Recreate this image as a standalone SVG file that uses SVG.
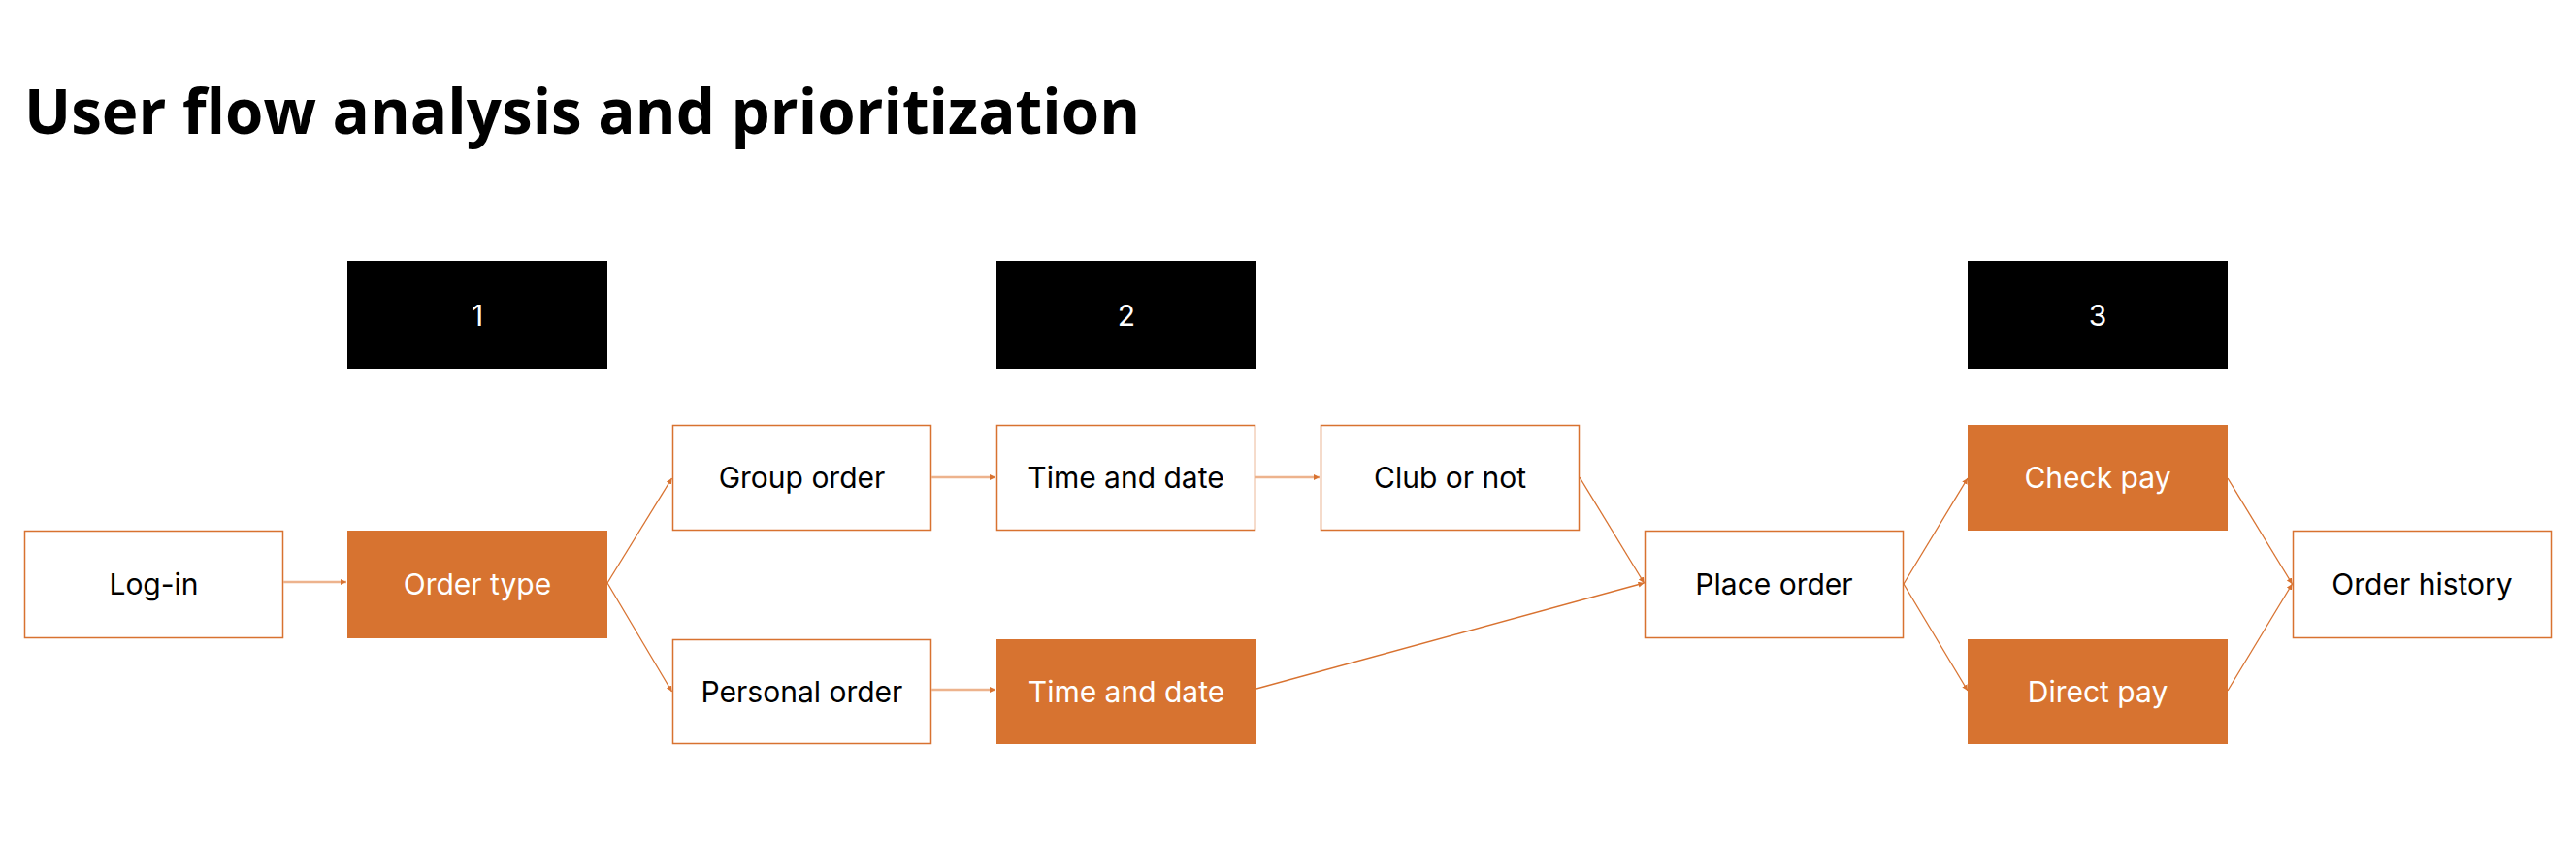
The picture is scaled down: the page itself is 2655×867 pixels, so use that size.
<svg xmlns="http://www.w3.org/2000/svg" width="2655" height="867" viewBox="0 0 2655 867">
<style>
.bg{fill:#ffffff}
.title{font-family:"Open Sans","Noto Sans","Liberation Sans",sans-serif;font-weight:700;font-size:65px;fill:#000000}
.box{fill:#ffffff;stroke:#D87230;stroke-width:1.5}
.hot{fill:#D77330;stroke:none}
.num{fill:#000000;stroke:none}
.lbl{font-family:Inter,"Liberation Sans",sans-serif;font-size:30px;text-anchor:middle;fill:#000000}
.wl{fill:#ffffff}
.soft{stroke:#EDB38D;stroke-width:2.5;fill:none}
.thin{stroke:#D87230;stroke-width:1.3;fill:none}
</style>
<defs>
<marker id="ah" markerUnits="userSpaceOnUse" markerWidth="7" markerHeight="7" refX="6" refY="3" orient="auto">
<path d="M0,0 L6,3 L0,6 z" fill="#D87230"/>
</marker>
</defs>
<rect class="bg" x="0" y="0" width="2655" height="867"/>
<text class="title" x="25" y="138" textLength="1150" lengthAdjust="spacingAndGlyphs">User flow analysis and prioritization</text>

<g id="step1"><rect class="num" x="358" y="269" width="268" height="111"/><text class="lbl wl" x="492" y="336">1</text></g>
<g id="step2"><rect class="num" x="1027" y="269" width="268" height="111"/><text class="lbl wl" x="1161" y="336">2</text></g>
<g id="step3"><rect class="num" x="2028" y="269" width="268" height="111"/><text class="lbl wl" x="2162" y="336">3</text></g>

<g id="login"><rect class="box" x="25.5" y="547.5" width="266" height="110"/><text class="lbl" x="158.5" y="613">Log-in</text></g>
<g id="ordertype"><rect class="hot" x="358" y="547" width="268" height="111"/><text class="lbl wl" x="492" y="613">Order type</text></g>
<g id="grouporder"><rect class="box" x="693.5" y="438.5" width="266" height="108"/><text class="lbl" x="826.5" y="503">Group order</text></g>
<g id="personalorder"><rect class="box" x="693.5" y="659.5" width="266" height="107"/><text class="lbl" x="826.5" y="724">Personal order</text></g>
<g id="timedate1"><rect class="box" x="1027.5" y="438.5" width="266" height="108"/><text class="lbl" x="1160.5" y="503">Time and date</text></g>
<g id="timedate2"><rect class="hot" x="1027" y="659" width="268" height="108"/><text class="lbl wl" x="1161" y="724">Time and date</text></g>
<g id="club"><rect class="box" x="1361.5" y="438.5" width="266" height="108"/><text class="lbl" x="1494.5" y="503">Club or not</text></g>
<g id="placeorder"><rect class="box" x="1695.5" y="547.5" width="266" height="110"/><text class="lbl" x="1828.5" y="613">Place order</text></g>
<g id="checkpay"><rect class="hot" x="2028" y="438" width="268" height="109"/><text class="lbl wl" x="2162" y="503">Check pay</text></g>
<g id="directpay"><rect class="hot" x="2028" y="659" width="268" height="108"/><text class="lbl wl" x="2162" y="724">Direct pay</text></g>
<g id="orderhistory"><rect class="box" x="2363.5" y="547.5" width="266" height="110"/><text class="lbl" x="2496.5" y="613">Order history</text></g>

<g id="connectors">
<line class="soft" x1="292" y1="600" x2="357" y2="600" marker-end="url(#ah)"/>
<line class="soft" x1="960" y1="492" x2="1026" y2="492" marker-end="url(#ah)"/>
<line class="soft" x1="1294" y1="492" x2="1360" y2="492" marker-end="url(#ah)"/>
<line class="soft" x1="960" y1="711" x2="1026" y2="711" marker-end="url(#ah)"/>
<line class="thin" x1="626" y1="601" x2="692.5" y2="493" marker-end="url(#ah)"/>
<line class="thin" x1="626" y1="601" x2="692.5" y2="713" marker-end="url(#ah)"/>
<line class="thin" x1="1628" y1="492" x2="1694.5" y2="601" marker-end="url(#ah)"/>
<line class="thin" x1="1295" y1="710" x2="1694.5" y2="601" marker-end="url(#ah)"/>
<line class="thin" x1="1962" y1="602" x2="2028" y2="493" marker-end="url(#ah)"/>
<line class="thin" x1="1962" y1="602" x2="2028" y2="712" marker-end="url(#ah)"/>
<line class="thin" x1="2296" y1="493" x2="2362.5" y2="602" marker-end="url(#ah)"/>
<line class="thin" x1="2296" y1="712" x2="2362.5" y2="602" marker-end="url(#ah)"/>
</g>
</svg>
